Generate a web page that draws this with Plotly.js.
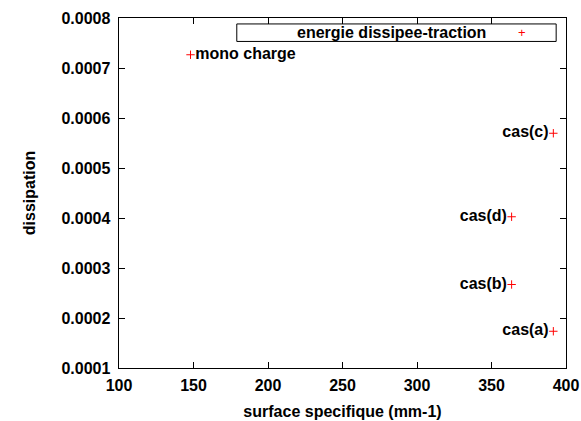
<!DOCTYPE html>
<html>
<head>
<meta charset="utf-8">
<script src="https://cdn.plot.ly/plotly-3.0.1.min.js"></script>
<style>html,body{margin:0;padding:0;background:#fff;}#chart{width:581px;height:421px;}</style>
</head>
<body>
<div id="chart"></div>
<script>
// Data
var labels = ["mono charge", "cas(c)", "cas(d)", "cas(b)", "cas(a)"];
var surfaceSpecifique = [148, 391.5, 363.5, 363.5, 391.5];
var dissipation = [0.0007265, 0.0005695, 0.0004025, 0.000267, 0.0001735];
var labelPositions = ["middle right", "middle left", "middle left", "middle left", "middle left"];
var xTicks = [100, 150, 200, 250, 300, 350, 400];
var yTicks = [0.0001, 0.0002, 0.0003, 0.0004, 0.0005, 0.0006, 0.0007, 0.0008];
var seriesName = "energie dissipee-traction";

var font = {family: "Liberation Sans, Arial, sans-serif", size: 16, color: "#000"};
var bold = function (s) { return "<b>" + s + "</b>"; };

var trace = {
  type: "scatter",
  mode: "markers+text",
  x: surfaceSpecifique,
  y: dissipation,
  text: labels.map(bold),
  textposition: labelPositions,
  textfont: font,
  marker: {symbol: "cross-thin", size: 6, color: "red", line: {color: "red", width: 1}},
  showlegend: false,
  cliponaxis: false,
  hoverinfo: "x+y"
};

var layout = {
  width: 581, height: 421,
  margin: {l: 119, r: 15, t: 18, b: 53},
  paper_bgcolor: "#fff", plot_bgcolor: "#fff",
  font: font,
  showlegend: false,
  xaxis: {
    range: [100, 400], tickvals: xTicks, ticktext: xTicks.map(function (v) { return bold(v); }),
    ticks: "inside", ticklen: 6, tickcolor: "#000", tickwidth: 1,
    showline: true, linecolor: "#000", linewidth: 1, mirror: "ticks",
    showgrid: false, zeroline: false, ticklabelstandoff: 3,
    title: {text: bold("surface specifique (mm-1)"), font: font, standoff: 12},
    automargin: false
  },
  yaxis: {
    range: [0.0001, 0.0008], tickvals: yTicks, ticktext: yTicks.map(function (v) { return bold(v.toFixed(4) + "&nbsp;"); }),
    ticks: "inside", ticklen: 6, tickcolor: "#000", tickwidth: 1,
    showline: true, linecolor: "#000", linewidth: 1, mirror: "ticks",
    showgrid: false, zeroline: false,
    title: {text: bold("dissipation"), font: font, standoff: 21},
    automargin: false
  },
  shapes: [{
    type: "rect", xref: "paper", yref: "paper",
    x0: 0.2635, x1: 0.978, y0: 0.933, y1: 0.983,
    line: {color: "#000", width: 1}, fillcolor: "rgba(0,0,0,0)"
  }],
  annotations: [
    {xref: "paper", yref: "paper", x: 0.8254, y: 0.958, xanchor: "right", yanchor: "middle",
     text: bold(seriesName), showarrow: false, font: font},
    {xref: "paper", yref: "paper", x: 0.901, y: 0.958, xanchor: "center", yanchor: "middle",
     text: "+", showarrow: false, font: {family: "Liberation Sans, Arial, sans-serif", size: 13, color: "red"}}
  ]
};

Plotly.newPlot("chart", [trace], layout, {displayModeBar: false, staticPlot: true});
</script>
</body>
</html>
